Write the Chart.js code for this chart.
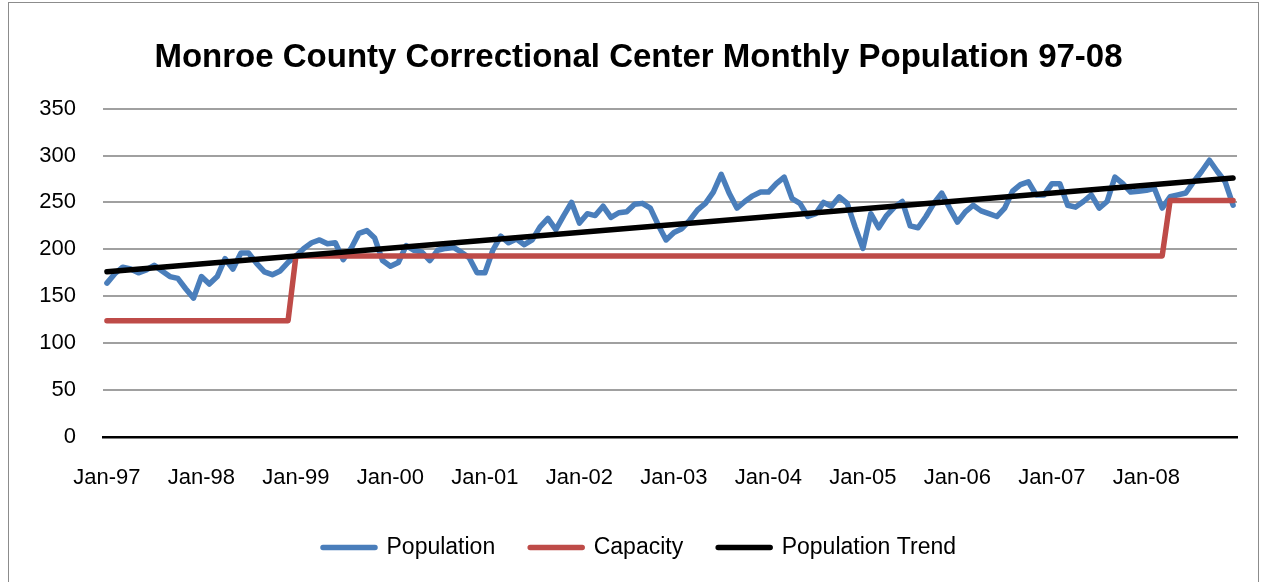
<!DOCTYPE html>
<html>
<head>
<meta charset="utf-8">
<script src="https://cdn.jsdelivr.net/npm/chart.js@4.4.0/dist/chart.umd.min.js"></script>
<style>
  html, body { margin: 0; padding: 0; background: #fff; }
  #frame { position: absolute; left: 8px; top: 2px; width: 1249px; height: 620px; border: 1px solid #8c8c8c; }
  #chart { position: absolute; left: 0; top: 0; }
</style>
</head>
<body>
<div id="frame"></div>
<canvas id="chart" width="1265" height="582"></canvas>
<script>
// 月份与年份（类别轴）
const months = ['Jan', 'Feb', 'Mar', 'Apr', 'May', 'Jun', 'Jul', 'Aug', 'Sep', 'Oct', 'Nov', 'Dec'];
const years = ['97', '98', '99', '00', '01', '02', '03', '04', '05', '06', '07', '08'];
const labels = years.flatMap(y => months.map(m => m + '-' + y));

// 月度在押人数
const population = [
  164, 174, 181, 179, 175, 178, 183, 177, 171, 169, 158, 148,
  171, 163, 171, 190, 179, 196, 196, 185, 176, 173, 177, 186,
  193, 201, 207, 210, 206, 207, 189, 201, 217, 220, 212, 188,
  182, 186, 204, 199, 197, 188, 199, 201, 202, 197, 191, 175,
  175, 199, 214, 207, 211, 205, 210, 224, 233, 221, 236, 250,
  228, 238, 236, 246, 234, 239, 240, 248, 249, 244, 226, 210,
  218, 222, 231, 242, 249, 261, 280, 260, 244, 251, 257, 261,
  261, 270, 277, 254, 249, 235, 238, 250, 246, 256, 249, 224,
  201, 238, 223, 236, 245, 251, 225, 223, 235, 249, 260, 244,
  229, 240, 247, 241, 238, 235, 244, 262, 269, 272, 258, 258,
  270, 270, 247, 245, 251, 258, 244, 251, 277, 270, 261, 262,
  263, 265, 244, 256, 258, 260, 272, 283, 295, 283, 272, 247
];

// 容量（阶梯变化点）
const capacity = [
  { x: 'Jan-97', y: 124 },
  { x: 'Dec-98', y: 124 },
  { x: 'Jan-99', y: 193 },
  { x: 'Mar-08', y: 193 },
  { x: 'Apr-08', y: 252 },
  { x: 'Dec-08', y: 252 }
];

// 趋势线（起点与终点）
const trend = [
  { x: 'Jan-97', y: 176 },
  { x: 'Dec-08', y: 276 }
];

const yTicks = [0, 50, 100, 150, 200, 250, 300, 350];

const axisFont = { family: 'Liberation Sans, Arial, sans-serif', size: 22 };

// 标题和图例整体右移，使其相对外框居中
const shiftBoxes = {
  id: 'shiftBoxes',
  afterLayout(chart) {
    if (chart.titleBlock) { chart.titleBlock.left += 16; chart.titleBlock.right += 16; }
    if (chart.legend) { chart.legend.left += 17; chart.legend.right += 17; }
  }
};

const lineStyle = {
  borderWidth: 5.5,
  pointRadius: 0,
  tension: 0,
  borderCapStyle: 'round',
  borderJoinStyle: 'round'
};

new Chart(document.getElementById('chart'), {
  type: 'line',
  data: {
    labels: labels,
    datasets: [
      { ...lineStyle, label: 'Population', data: population, borderColor: '#4A7EBB', backgroundColor: '#4A7EBB', order: 3 },
      { ...lineStyle, label: 'Capacity', data: capacity, borderColor: '#BE4B48', backgroundColor: '#BE4B48', order: 2 },
      { ...lineStyle, label: 'Population Trend', data: trend, borderColor: '#000000', backgroundColor: '#000000', order: 1 }
    ]
  },
  plugins: [shiftBoxes],
  options: {
    responsive: false,
    animation: false,
    devicePixelRatio: 1,
    layout: { padding: { left: 8, right: 28, top: 0, bottom: 13 } },
    plugins: {
      tooltip: { enabled: false },
      title: {
        display: true,
        text: 'Monroe County Correctional Center Monthly Population 97-08',
        color: '#000',
        font: { family: 'Liberation Sans, Arial, sans-serif', size: 33, weight: 'bold' },
        padding: { top: 38, bottom: 31 }
      },
      legend: {
        display: true,
        position: 'bottom',
        labels: {
          color: '#000',
          font: { family: 'Liberation Sans, Arial, sans-serif', size: 23 },
          boxWidth: 52,
          boxHeight: 0,
          padding: 35,
          sort: (a, b) => a.datasetIndex - b.datasetIndex
        }
      }
    },
    scales: {
      x: {
        type: 'category',
        offset: true,
        grid: { display: false, drawTicks: false },
        border: { display: true, color: '#000', width: 2.5 },
        ticks: {
          autoSkip: false,
          minRotation: 0,
          maxRotation: 0,
          padding: 28,
          color: '#000',
          font: axisFont,
          callback: function (value, index) {
            return index % 12 === 0 ? this.getLabelForValue(value) : null;
          }
        },
        afterFit: scale => { scale.height = 64; }
      },
      y: {
        min: 0,
        max: 350,
        afterBuildTicks: scale => { scale.ticks = yTicks.map(v => ({ value: v })); },
        grid: { color: '#a0a0a0', lineWidth: 2, drawTicks: false },
        border: { display: false },
        ticks: { padding: 27, color: '#000', font: axisFont },
        afterFit: scale => { scale.width = 95; }
      }
    }
  }
});
</script>
</body>
</html>
